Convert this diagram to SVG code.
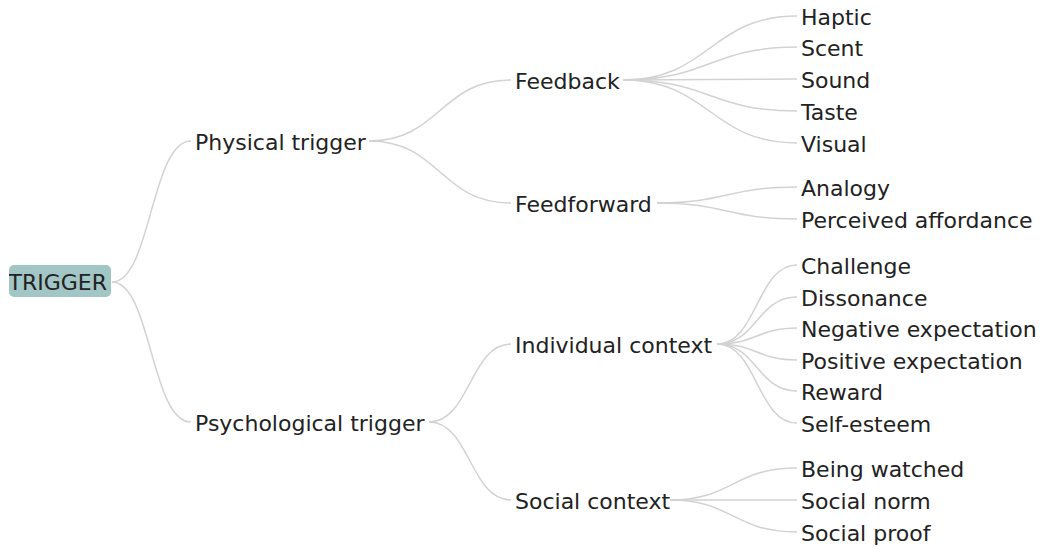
<svg xmlns="http://www.w3.org/2000/svg" width="1040" height="548" viewBox="0 0 1040 548">
<style>
.lbl{font-family:"DejaVu Sans","Verdana",sans-serif;font-size:22px;fill:#222}
.lnk{fill:none;stroke:#d2d2d2;stroke-width:1.5}
</style>
<defs>
<clipPath id="cl"><rect x="9" y="0" width="1031" height="548"/></clipPath>
</defs>
<rect width="1040" height="548" fill="#fff"/>
<g id="connectors">
<path class="lnk" d="M112,282 C151,282 151,141 191,141"/>
<path class="lnk" d="M112,282 C151,282 151,422 191,422"/>
<path class="lnk" d="M369,141 C440,141 440,80 511,80"/>
<path class="lnk" d="M369,141 C440,141 440,203 511,203"/>
<path class="lnk" d="M429,422 C470,422 470,344 511,344"/>
<path class="lnk" d="M429,422 C470,422 470,500 511,500"/>
<path class="lnk" d="M623,80 C710,80 710,16 797,16"/>
<path class="lnk" d="M623,80 C710,80 710,47 797,47"/>
<path class="lnk" d="M623,80 C710,80 710,79 797,79"/>
<path class="lnk" d="M623,80 C710,80 710,111 797,111"/>
<path class="lnk" d="M623,80 C710,80 710,143 797,143"/>
<path class="lnk" d="M657,203 C727,203 727,187 797,187"/>
<path class="lnk" d="M657,203 C727,203 727,219 797,219"/>
<path class="lnk" d="M717,344 C757,344 757,265 797,265"/>
<path class="lnk" d="M717,344 C757,344 757,297 797,297"/>
<path class="lnk" d="M717,344 C757,344 757,328 797,328"/>
<path class="lnk" d="M717,344 C757,344 757,360 797,360"/>
<path class="lnk" d="M717,344 C757,344 757,391 797,391"/>
<path class="lnk" d="M717,344 C757,344 757,423 797,423"/>
<path class="lnk" d="M670,500 C733,500 733,468 797,468"/>
<path class="lnk" d="M670,500 C733,500 733,500 797,500"/>
<path class="lnk" d="M670,500 C733,500 733,532 797,532"/>
</g>
<g id="n-trigger" clip-path="url(#cl)">
<rect x="9" y="265" width="102" height="32" rx="5" fill="#a2c5c5"/>
<text class="lbl" x="107" y="290" text-anchor="end">TRIGGER</text>
</g>
<g id="n-physical"><text class="lbl" x="195" y="150">Physical trigger</text></g>
<g id="n-psychological"><text class="lbl" x="195" y="430.5">Psychological trigger</text></g>
<g id="n-feedback"><text class="lbl" x="515" y="88.5">Feedback</text></g>
<g id="n-feedforward"><text class="lbl" x="515" y="211.5">Feedforward</text></g>
<g id="n-individual"><text class="lbl" x="515" y="352.5">Individual context</text></g>
<g id="n-social"><text class="lbl" x="515" y="508.5">Social context</text></g>
<g id="n-haptic"><text class="lbl" x="801" y="24.5">Haptic</text></g>
<g id="n-scent"><text class="lbl" x="801" y="55.5">Scent</text></g>
<g id="n-sound"><text class="lbl" x="801" y="87.5">Sound</text></g>
<g id="n-taste"><text class="lbl" x="801" y="119.5">Taste</text></g>
<g id="n-visual"><text class="lbl" x="801" y="151.5">Visual</text></g>
<g id="n-analogy"><text class="lbl" x="801" y="195.5">Analogy</text></g>
<g id="n-perceived"><text class="lbl" x="801" y="227.5">Perceived affordance</text></g>
<g id="n-challenge"><text class="lbl" x="801" y="273.5">Challenge</text></g>
<g id="n-dissonance"><text class="lbl" x="801" y="305.5">Dissonance</text></g>
<g id="n-negative"><text class="lbl" x="801" y="336.5">Negative expectation</text></g>
<g id="n-positive"><text class="lbl" x="801" y="368.5">Positive expectation</text></g>
<g id="n-reward"><text class="lbl" x="801" y="399.5">Reward</text></g>
<g id="n-selfesteem"><text class="lbl" x="801" y="431.5">Self-esteem</text></g>
<g id="n-beingwatched"><text class="lbl" x="801" y="476.5">Being watched</text></g>
<g id="n-socialnorm"><text class="lbl" x="801" y="508.5">Social norm</text></g>
<g id="n-socialproof"><text class="lbl" x="801" y="540.5">Social proof</text></g>
</svg>
